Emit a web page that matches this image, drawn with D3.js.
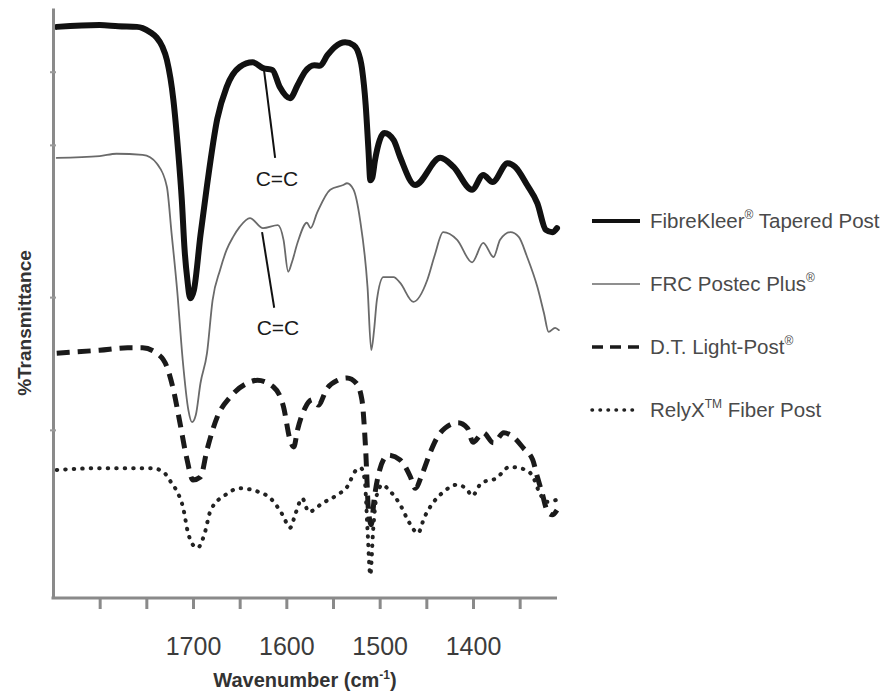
<!DOCTYPE html>
<html>
<head>
<meta charset="utf-8">
<script src="https://cdn.jsdelivr.net/npm/d3@7"></script>
<style>
  body { margin: 0; background: #fff; }
  svg { display: block; font-family: "Liberation Sans", Arial, sans-serif; }
</style>
</head>
<body>
<div id="chart"></div>
<script>
// spectra: [wavenumber cm-1, %T (offset, arbitrary)]
var fibreKleer = [[1846,96.8],[1800,97.1],[1780,96.9],[1760,96.8],[1754,96.6],[1745,95.8],[1739,95.0],[1733,93.5],[1728,91.2],[1721,84.4],[1716,75.9],[1712,67.5],[1709,59.0],[1706,53.9],[1703,50.8],[1699,52.2],[1692,61.5],[1685,69.9],[1674,81.2],[1664,86.6],[1650,90.0],[1636,90.8],[1625,89.8],[1615,89.5],[1607,86.6],[1596,84.7],[1588,86.9],[1580,89.2],[1570,90.3],[1564,90.2],[1556,92.0],[1548,93.4],[1537,94.2],[1528,93.7],[1524,92.9],[1519,89.8],[1515,83.6],[1512,75.9],[1510,70.8],[1508,71.2],[1505,74.2],[1500,77.6],[1495,78.8],[1485,77.6],[1478,74.7],[1462,70.0],[1435,74.6],[1421,73.1],[1401,69.2],[1389,71.7],[1379,70.5],[1363,73.7],[1355,73.1],[1342,70.0],[1331,66.9],[1322,62.4],[1315,62.0],[1310,62.7]];

var postecPlus = [[1846,74.6],[1800,74.9],[1782,75.3],[1754,75.1],[1746,74.7],[1739,73.7],[1728,69.7],[1723,61.9],[1717,52.2],[1711,40.3],[1705,31.9],[1701,29.8],[1697,31.0],[1692,36.4],[1685,41.5],[1679,50.5],[1671,55.6],[1664,59.0],[1657,61.2],[1650,62.9],[1639,64.4],[1625,62.7],[1609,63.2],[1603,60.7],[1598,55.3],[1594,56.9],[1588,60.2],[1578,63.6],[1574,62.7],[1567,65.3],[1553,69.2],[1539,70.0],[1535,70.3],[1528,69.2],[1521,64.1],[1513,52.7],[1509,42.0],[1506,45.4],[1503,50.5],[1496,54.4],[1485,54.4],[1478,53.4],[1464,50.2],[1449,53.9],[1441,58.1],[1432,62.0],[1417,60.7],[1401,56.9],[1389,60.2],[1378,57.8],[1371,60.7],[1360,62.0],[1351,61.2],[1342,57.8],[1331,52.7],[1324,48.3],[1319,45.1],[1312,45.8],[1308,45.4]];

var lightPost = [[1846,41.5],[1800,42.0],[1770,42.4],[1754,42.4],[1739,41.5],[1728,39.2],[1721,35.3],[1714,29.7],[1707,23.9],[1700,20.0],[1692,20.5],[1685,25.1],[1674,30.7],[1660,34.1],[1642,36.4],[1631,36.9],[1614,35.8],[1603,32.4],[1596,26.8],[1592,25.6],[1588,28.5],[1580,32.2],[1572,33.6],[1566,32.7],[1556,35.6],[1545,36.9],[1535,37.3],[1525,36.4],[1519,33.6],[1515,25.1],[1512,14.9],[1509,12.4],[1506,16.6],[1500,21.7],[1491,24.2],[1478,23.4],[1467,20.5],[1462,18.6],[1454,21.2],[1446,24.6],[1438,27.3],[1430,28.8],[1416,29.7],[1406,28.8],[1400,26.4],[1389,28.0],[1378,26.3],[1367,28.0],[1357,27.3],[1346,25.4],[1336,23.4],[1331,20.5],[1326,17.8],[1320,14.6],[1315,14.1],[1310,14.9]];

var relyX = [[1846,21.7],[1800,22.0],[1760,22.0],[1744,22.0],[1732,21.4],[1723,19.5],[1718,18.3],[1710,14.9],[1706,11.5],[1700,9.0],[1695,8.5],[1688,10.7],[1681,14.9],[1665,17.5],[1650,18.6],[1630,18.0],[1617,16.9],[1604,14.1],[1596,11.9],[1590,14.4],[1583,16.9],[1576,14.6],[1561,16.1],[1545,17.5],[1535,18.8],[1525,21.7],[1520,22.0],[1516,20.0],[1513,11.5],[1510,3.9],[1507,11.5],[1503,17.5],[1497,19.2],[1490,18.3],[1478,15.8],[1468,12.7],[1459,11.0],[1452,13.7],[1443,16.1],[1433,17.8],[1417,19.2],[1406,18.3],[1401,17.3],[1391,19.5],[1375,20.3],[1361,22.2],[1343,21.7],[1335,20.3],[1330,18.3],[1321,16.3],[1311,16.6]];

var seriesNames = ["FibreKleer", "FRC Postec Plus", "D.T. Light-Post", "RelyX"];
var seriesSup   = ["\u00AE", "\u00AE", "\u00AE", "TM"];
var seriesTail  = [" Tapered Post", "", "", " Fiber Post"];

var xTicks  = [1800, 1750, 1700, 1650, 1600, 1550, 1500, 1450, 1400, 1350];
var xLabels = [1700, 1600, 1500, 1400];
var yTicks  = [89.2, 76.8, 51.0, 28.5];

// C=C callouts: leader from curve point to label, in data units
var callouts = [
  {w0: 1624, t0: 89.6, w1: 1612, t1: 74.6, lw: 1610, lt: 69.8},
  {w0: 1626, t0: 62.0, w1: 1613, t1: 49.2, lw: 1609, lt: 44.6}
];

var margin = {top: 8, right: 337, bottom: 97, left: 53},
  width = 894 - margin.left - margin.right,
  height = 695 - margin.top - margin.bottom;

var x = d3.scaleLinear().domain([1850, 1310]).range([0, width]);
var y = d3.scaleLinear().domain([0, 100]).range([height, 0]);

var styles = [
  {stroke: "#111", width: 6, dash: null, cap: "round"},
  {stroke: "#6a6a6a", width: 1.8, dash: null, cap: "round"},
  {stroke: "#1a1a1a", width: 5, dash: "13,8", cap: "butt"},
  {stroke: "#222", width: 4, dash: "0.5,8", cap: "round"}
];

var svg = d3.select("#chart").append("svg")
  .attr("width", 894)
  .attr("height", 695);

var g = svg.append("g")
  .attr("transform", "translate(" + margin.left + "," + margin.top + ")");

var line = d3.line()
  .curve(d3.curveMonotoneX)
  .x(function(d) { return x(d[0]); })
  .y(function(d) { return y(d[1]); });

var data = [fibreKleer, postecPlus, lightPost, relyX];

g.selectAll(".spectrum")
  .data(data)
  .enter().append("path")
  .attr("class", "spectrum")
  .attr("d", line)
  .attr("fill", "none")
  .attr("stroke", function(d, i) { return styles[i].stroke; })
  .attr("stroke-width", function(d, i) { return styles[i].width; })
  .attr("stroke-dasharray", function(d, i) { return styles[i].dash; })
  .attr("stroke-linecap", function(d, i) { return styles[i].cap; })
  .attr("stroke-linejoin", "round");

// axes
var xAxis = d3.axisBottom(x)
  .tickValues(xTicks)
  .tickSize(11)
  .tickSizeOuter(0)
  .tickPadding(28)
  .tickFormat(function(d) { return xLabels.indexOf(d) >= 0 ? d : ""; });

var yAxis = d3.axisLeft(y)
  .tickValues(yTicks)
  .tickSize(3)
  .tickSizeOuter(0)
  .tickFormat("");

var gx = g.append("g")
  .attr("transform", "translate(0," + height + ")")
  .call(xAxis);
gx.select(".domain").attr("stroke", "#8a8a8a").attr("stroke-width", 3)
  .attr("d", "M-1.5,0H" + width);
gx.selectAll(".tick line").attr("stroke", "#8a8a8a").attr("stroke-width", 3);
gx.selectAll(".tick text")
  .attr("fill", "#3c3c3c")
  .style("font-size", "25px")
  .style("font-family", "'Liberation Sans', Arial, sans-serif");

var gy = g.append("g").call(yAxis);
gy.select(".domain").attr("stroke", "#8a8a8a").attr("stroke-width", 3);
gy.selectAll(".tick line").attr("stroke", "#9a9a9a").attr("stroke-width", 2)
  .attr("x1", 3);

// axis titles
var title = g.append("text")
  .attr("x", width / 2)
  .attr("y", 679)
  .attr("text-anchor", "middle")
  .attr("fill", "#333")
  .style("font-size", "20px")
  .style("font-weight", "bold");
title.append("tspan").text("Wavenumber (cm");
title.append("tspan").attr("dy", -8).style("font-size", "12px").text("-1");
title.append("tspan").attr("dy", 8).text(")");

g.append("text")
  .attr("transform", "translate(-22," + (height / 2 + 20) + ") rotate(-90)")
  .attr("text-anchor", "middle")
  .attr("fill", "#333")
  .style("font-size", "19px")
  .style("font-weight", "bold")
  .text("%Transmittance");

// C=C callouts
var co = g.selectAll(".callout")
  .data(callouts)
  .enter().append("g")
  .attr("class", "callout");

co.append("line")
  .attr("x1", function(d) { return x(d.w0); })
  .attr("y1", function(d) { return y(d.t0); })
  .attr("x2", function(d) { return x(d.w1); })
  .attr("y2", function(d) { return y(d.t1); })
  .attr("stroke", "#111")
  .attr("stroke-width", 2);

co.append("text")
  .attr("x", function(d) { return x(d.lw); })
  .attr("y", function(d) { return y(d.lt); })
  .attr("text-anchor", "middle")
  .attr("fill", "#1a1a1a")
  .style("font-size", "21px")
  .text("C=C");

// legend
var legend = svg.selectAll(".legend")
  .data(seriesNames)
  .enter().append("g")
  .attr("class", "legend")
  .attr("transform", function(d, i) { return "translate(592," + (221 + i * 63) + ")"; });

legend.append("line")
  .attr("x1", 0)
  .attr("x2", 48)
  .attr("stroke", function(d, i) { return styles[i].stroke; })
  .attr("stroke-width", function(d, i) { return i === 0 ? 4 : (i === 1 ? 1.5 : 3.5); })
  .attr("stroke-dasharray", function(d, i) { return i === 2 ? "11,7" : (i === 3 ? "0.5,7.5" : null); })
  .attr("stroke-linecap", function(d, i) { return i === 3 ? "round" : "butt"; });

var lt = legend.append("text")
  .attr("x", 58)
  .attr("y", 7)
  .attr("fill", "#4a4a4a")
  .style("font-size", "20.5px");

lt.append("tspan").text(function(d) { return d; });
lt.append("tspan")
  .attr("dy", -9)
  .style("font-size", "12px")
  .text(function(d, i) { return seriesSup[i]; });
lt.append("tspan")
  .attr("dy", 9)
  .text(function(d, i) { return seriesTail[i]; });
</script>
</body>
</html>
